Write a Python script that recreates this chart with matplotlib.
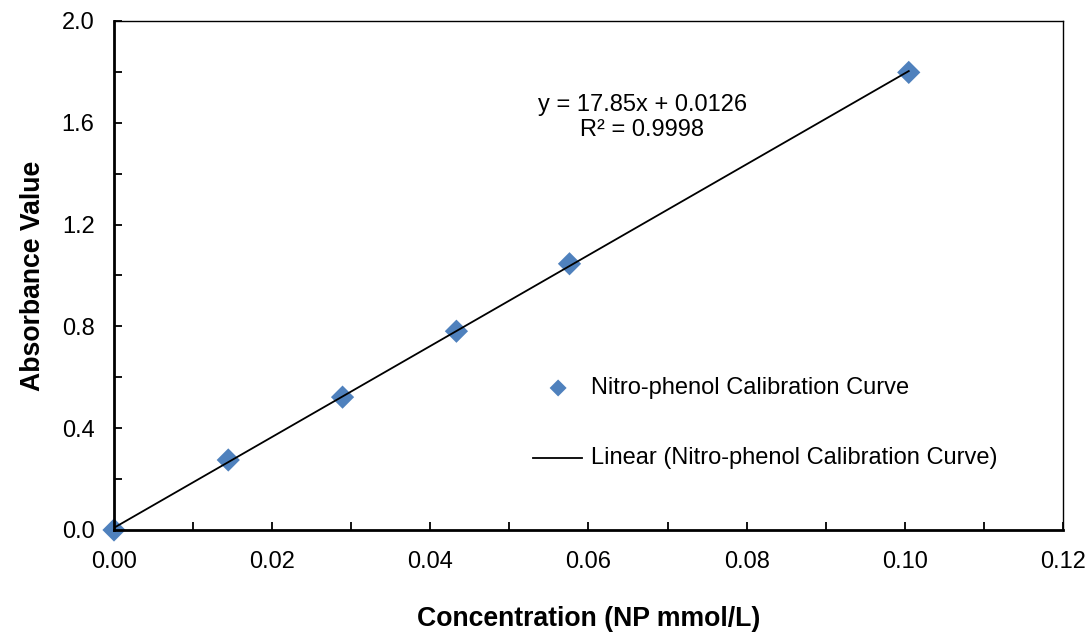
import matplotlib.pyplot as plt
import numpy as np

# Calibration data
concentration = [0.0, 0.01445, 0.0289, 0.0433, 0.0576, 0.1005]
absorbance = [0.0, 0.275, 0.522, 0.781, 1.046, 1.798]
x_ticks = [0.00, 0.02, 0.04, 0.06, 0.08, 0.10, 0.12]
y_ticks = [0.0, 0.4, 0.8, 1.2, 1.6, 2.0]
eq_text = "y = 17.85x + 0.0126\nR\u00b2 = 0.9998"
series_label = "Nitro-phenol Calibration Curve"

BLUE = "#4F81BD"
FS = 17
LABEL_FS = 19.2

plt.rcParams["font.family"] = ["Liberation Sans", "DejaVu Sans"]

fig = plt.figure(figsize=(10.92, 6.36), dpi=100)
ax = fig.add_axes([0.1044, 0.1667, 0.8690, 0.8003])

# linear trendline from a least-squares fit
slope, intercept = np.polyfit(concentration, absorbance, 1)
x_fit = np.array([min(concentration), max(concentration)])
ax.plot(x_fit, slope * x_fit + intercept, color="black", lw=1.3, zorder=3)

ax.scatter(concentration, absorbance, marker="D", s=140, color=BLUE,
           edgecolors="none", zorder=2, clip_on=False)

ax.set_xlim(0, 0.12)
ax.set_ylim(0, 2.0)
ax.set_xticks(x_ticks)
ax.set_yticks(y_ticks)
ax.set_xticklabels([f"{v:.2f}" for v in x_ticks])
ax.set_yticklabels([f"{v:.1f}" for v in y_ticks])
ax.set_xticks(np.arange(0.01, 0.12, 0.02), minor=True)
ax.set_yticks(np.arange(0.2, 2.0, 0.4), minor=True)
ax.tick_params(which="both", direction="in", length=6, width=1.3,
               labelsize=FS)
ax.tick_params(axis="x", pad=15)
ax.tick_params(axis="y", pad=14)

for side in ["left", "bottom"]:
    ax.spines[side].set_linewidth(2.0)
for side in ["top", "right"]:
    ax.spines[side].set_linewidth(1.0)

ax.set_xlabel("Concentration (NP mmol/L)", fontsize=LABEL_FS, fontweight="bold",
              labelpad=24)
ax.set_ylabel("Absorbance Value", fontsize=LABEL_FS, fontweight="bold",
              labelpad=11)

ax.text(0.0668, 1.62, eq_text, ha="center", va="center", fontsize=FS,
        linespacing=1.15)

# legend entries, drawn by hand in axes coordinates like the original
ax.scatter([0.468], [0.279], marker="D", s=75, color=BLUE, edgecolors="none",
           transform=ax.transAxes)
ax.text(0.503, 0.279, series_label, transform=ax.transAxes, va="center",
        fontsize=FS)
ax.plot([0.4415, 0.493], [0.1415, 0.1415], color="black", lw=1.3,
        transform=ax.transAxes)
ax.text(0.503, 0.1415, f"Linear ({series_label})", transform=ax.transAxes,
        va="center", fontsize=FS)

fig.savefig("out.png", dpi=100, facecolor="white")
